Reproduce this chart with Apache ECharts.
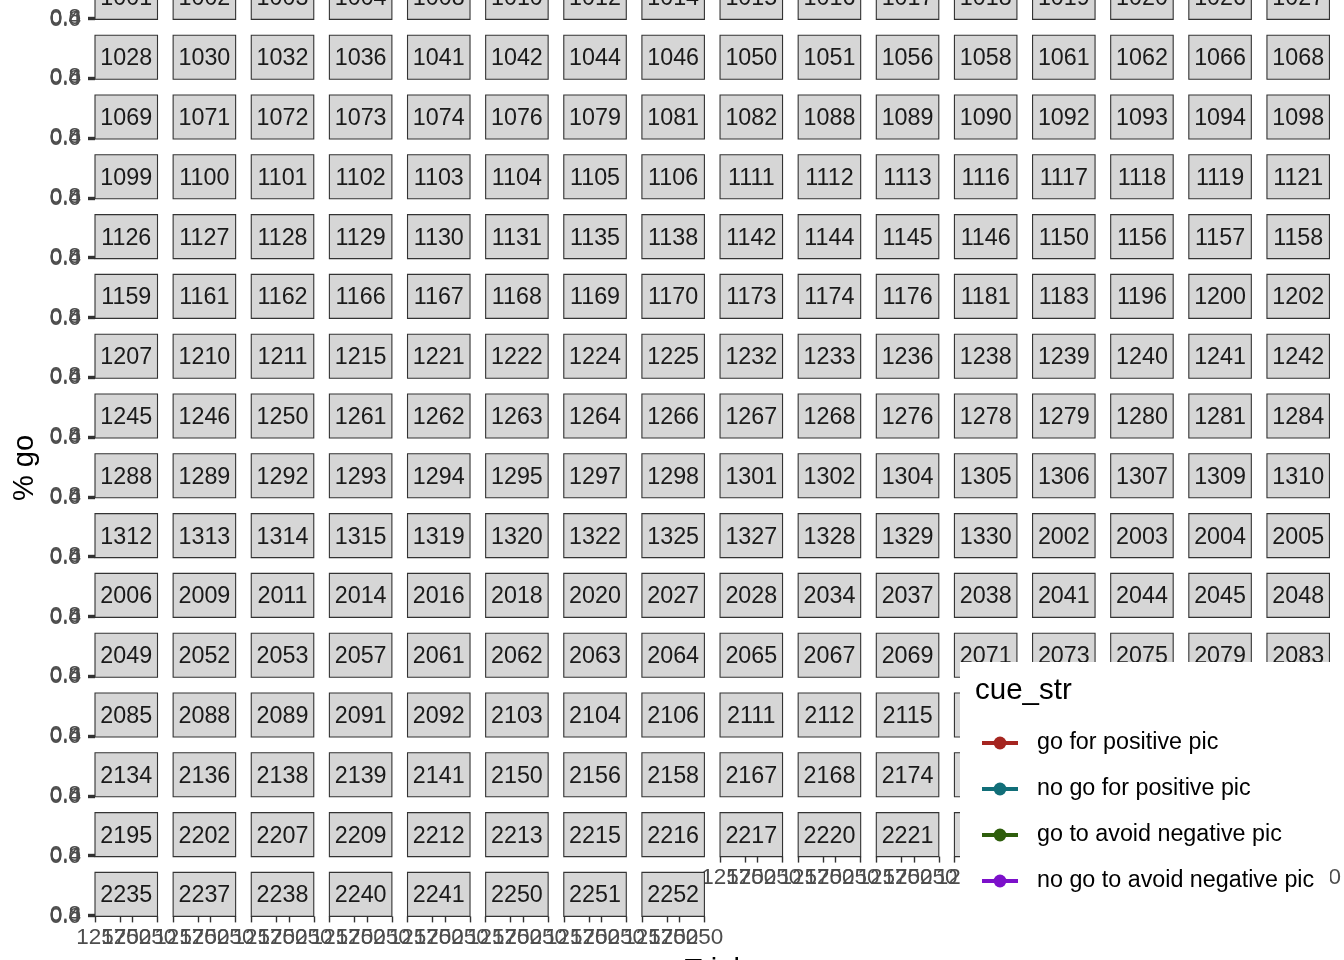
<!DOCTYPE html>
<html><head><meta charset="utf-8">
<script src="https://cdn.jsdelivr.net/npm/echarts@6/dist/echarts.min.js"></script>
<style>html,body{margin:0;padding:0;background:#fff}#c{width:1344px;height:960px}</style>
</head><body><div id="c"></div>
<script>
// ---- data ----
const panelIds = [
  1001,1002,1003,1004,1008,1010,1012,1014,1015,1016,1017,1018,1019,1020,1026,1027,
  1028,1030,1032,1036,1041,1042,1044,1046,1050,1051,1056,1058,1061,1062,1066,1068,
  1069,1071,1072,1073,1074,1076,1079,1081,1082,1088,1089,1090,1092,1093,1094,1098,
  1099,1100,1101,1102,1103,1104,1105,1106,1111,1112,1113,1116,1117,1118,1119,1121,
  1126,1127,1128,1129,1130,1131,1135,1138,1142,1144,1145,1146,1150,1156,1157,1158,
  1159,1161,1162,1166,1167,1168,1169,1170,1173,1174,1176,1181,1183,1196,1200,1202,
  1207,1210,1211,1215,1221,1222,1224,1225,1232,1233,1236,1238,1239,1240,1241,1242,
  1245,1246,1250,1261,1262,1263,1264,1266,1267,1268,1276,1278,1279,1280,1281,1284,
  1288,1289,1292,1293,1294,1295,1297,1298,1301,1302,1304,1305,1306,1307,1309,1310,
  1312,1313,1314,1315,1319,1320,1322,1325,1327,1328,1329,1330,2002,2003,2004,2005,
  2006,2009,2011,2014,2016,2018,2020,2027,2028,2034,2037,2038,2041,2044,2045,2048,
  2049,2052,2053,2057,2061,2062,2063,2064,2065,2067,2069,2071,2073,2075,2079,2083,
  2085,2088,2089,2091,2092,2103,2104,2106,2111,2112,2115,2117,2120,2122,2125,2130,
  2134,2136,2138,2139,2141,2150,2156,2158,2167,2168,2174,2178,2181,2186,2189,2192,
  2195,2202,2207,2209,2212,2213,2215,2216,2217,2220,2221,2223,2226,2229,2231,2233,
  2235,2237,2238,2240,2241,2250,2251,2252
];
const xTickMin = 125, xTickMax = 250, xTickStep = 25;
const yTickMin = 0, yTickMax = 0.8, yTickStep = 0.2;
const seriesNames = ['go for positive pic','no go for positive pic','go to avoid negative pic','no go to avoid negative pic'];
const seriesColors = ['#A52520','#116E78','#2E5E0C','#7C10CA'];
const legendTitle = 'cue_str';
const xTitle = 'Trial';
const yTitle = '% go';

// ---- layout ----
const FONT = '"Liberation Sans", Arial, sans-serif';
const nCol = 16;
const x0 = 95, colPitch = 78.13, panelW = 62.5;
const yb0 = 19.4, rowPitch = 59.8, stripH = 44, panelH = 2;

const grid = [], xAxis = [], yAxis = [], graphics = [];
panelIds.forEach((id, i) => {
  const r = Math.floor(i / nCol), c = i % nCol;
  const left = x0 + c * colPitch;
  const bottom = yb0 + r * rowPitch;
  const isBottom = (i + nCol >= panelIds.length);
  grid.push({left: left, top: bottom - panelH, width: panelW, height: panelH, containLabel: false});
  xAxis.push({
    gridIndex: i, type: 'value', min: xTickMin, max: xTickMax, interval: xTickStep,
    show: isBottom,
    axisLine: {show: false}, splitLine: {show: false},
    axisTick: {show: true, length: 6, lineStyle: {color: '#333333', width: 1.4}},
    axisLabel: {fontSize: 22.5, color: '#4D4D4D', margin: 10, fontFamily: FONT, hideOverlap: false,
                showMinLabel: true, showMaxLabel: true}
  });
  yAxis.push({
    gridIndex: i, type: 'value', min: yTickMin, max: yTickMax, interval: yTickStep,
    show: c === 0,
    axisLine: {show: false}, splitLine: {show: false},
    axisTick: {show: true, length: 7, lineStyle: {color: '#333333', width: 1.4}},
    axisLabel: {fontSize: 22.5, color: '#4D4D4D', margin: 14, fontFamily: FONT, hideOverlap: false,
                formatter: v => v.toFixed(1), showMinLabel: true, showMaxLabel: true}
  });
  graphics.push({
    type: 'rect', z: 5,
    shape: {x: left, y: bottom - stripH, width: panelW, height: stripH},
    style: {fill: '#D6D6D6', stroke: '#333333', lineWidth: 1.1}
  });
  graphics.push({
    type: 'text', z: 6,
    x: left + panelW / 2, y: bottom - stripH / 2 + 1.5,
    style: {text: String(id), fill: '#1A1A1A', font: '23.3px ' + FONT, align: 'center', verticalAlign: 'middle'}
  });
});

// legend background + title
graphics.push({type: 'rect', z: 150, shape: {x: 960, y: 662, width: 370, height: 246}, style: {fill: '#FFFFFF'}});
graphics.push({type: 'text', z: 160, x: 975, y: 691,
  style: {text: legendTitle, fill: '#000000', font: '29.5px ' + FONT, align: 'left', verticalAlign: 'middle'}});
// axis titles
graphics.push({type: 'text', z: 10, x: (x0 + x0 + 15 * colPitch + panelW) / 2, y: 971,
  style: {text: xTitle, fill: '#000000', font: '29px ' + FONT, align: 'center', verticalAlign: 'middle'}});
graphics.push({type: 'text', z: 10, x: 25, y: 468, rotation: Math.PI / 2,
  style: {text: yTitle, fill: '#000000', font: '29px ' + FONT, align: 'center', verticalAlign: 'middle'}});

const series = seriesNames.map((n, k) => ({
  name: n, type: 'line', xAxisIndex: 0, yAxisIndex: 0, data: [],
  symbol: 'circle', color: seriesColors[k],
  lineStyle: {width: 4, color: seriesColors[k]}, itemStyle: {color: seriesColors[k]}
}));

const chart = echarts.init(document.getElementById('c'), null, {renderer: 'canvas'});
chart.setOption({
  animation: false,
  backgroundColor: '#FFFFFF',
  grid: grid, xAxis: xAxis, yAxis: yAxis,
  graphic: {elements: graphics},
  legend: {
    data: seriesNames, orient: 'vertical', left: 980, top: 731, z: 200,
    itemWidth: 36, itemHeight: 16, itemGap: 22, padding: 0,
    lineStyle: {width: 4},
    textStyle: {fontSize: 23.3, color: '#000000', fontFamily: FONT, lineHeight: 24, padding: [0, 0, 0, 14]},
    selectedMode: false
  },
  series: series
});
</script>
</body></html>
